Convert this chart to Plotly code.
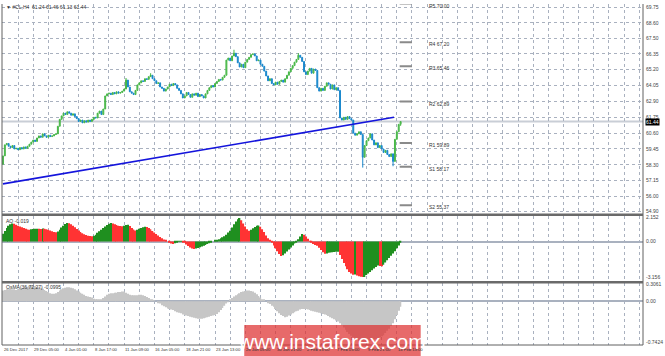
import plotly.graph_objects as go

# ---------------- data ----------------
DATE_LABELS = ["26 Dec 2017", "29 Dec 05:00", "4 Jan 01:00", "8 Jan 17:00", "11 Jan 09:00",
               "16 Jan 05:00", "18 Jan 21:00", "23 Jan 13:00", "26 Jan 05:00", "30 Jan 21:00",
               "2 Feb 13:00", "7 Feb 05:00", "9 Feb 21:00", "14 Feb 13:00"]
LABEL_STEP = 16  # bars between date labels

FIRST_OPEN = 58.35
CLOSE = [
    58.95, 59.75, 59.85, 59.65, 59.55, 59.70, 59.45, 59.50, 59.40, 59.55,
    59.45, 59.60, 59.50, 59.65, 59.80, 59.95, 60.10, 60.00, 60.25, 60.40,
    60.30, 60.55, 60.40, 60.30, 60.45, 60.35, 60.40, 60.50, 60.55, 61.10,
    61.60, 61.85, 62.05, 61.95, 62.15, 62.05, 61.90, 62.00, 61.80, 61.65,
    61.45, 61.55, 61.35, 61.50, 61.40, 61.55, 61.45, 61.60, 61.75, 61.70,
    62.05, 62.20, 61.95, 62.35, 63.30, 63.45, 63.50, 63.40, 63.55, 63.45,
    63.60, 63.50, 63.55, 63.65, 63.80, 64.45, 63.95, 63.60, 63.50, 63.40,
    63.70, 64.10, 64.25, 64.40, 64.35, 64.55, 64.50, 64.70, 64.80, 64.55,
    64.40, 64.20, 64.25, 63.95, 63.85, 63.65, 63.80, 63.95, 64.15, 64.05,
    64.20, 64.10, 63.85, 63.70, 63.45, 63.15, 63.30, 63.55, 63.40, 63.20,
    63.45, 63.35, 63.50, 63.25, 63.40, 63.30, 63.15, 63.45, 63.70, 63.90,
    64.05, 63.95, 64.20, 64.35, 64.50, 64.45, 64.65, 64.80, 65.90, 66.05,
    65.85, 66.20, 66.40, 66.15, 65.70, 65.40, 65.60, 65.35, 65.75, 65.95,
    66.10, 66.30, 66.35, 66.20, 65.85, 65.90, 65.60, 65.45, 65.10, 64.75,
    64.40, 64.55, 64.20, 64.10, 64.30, 64.15, 64.35, 64.45, 64.30, 64.55,
    64.80, 65.05, 65.30, 65.50, 65.75, 65.95, 66.25, 66.10, 65.80, 65.05,
    64.85, 65.10, 65.30, 64.95, 65.25, 65.15, 63.90, 63.65, 63.85, 63.70,
    64.00, 64.25, 64.15, 63.80, 64.10, 63.75, 63.90, 63.70, 61.70, 61.55,
    61.75, 61.60, 61.80, 61.65, 61.55, 60.60, 60.45, 60.55, 60.70, 60.50,
    58.85, 59.70, 60.05, 60.25, 60.55, 60.10, 59.75, 59.90, 59.55, 59.70,
    59.45, 59.20, 59.35, 59.05, 58.90, 59.10, 58.55, 60.15, 60.70, 61.24,
    61.44,
]
WICK_HIGH = {65: 64.60, 78: 64.95, 122: 66.65, 156: 66.40, 210: 61.46}
WICK_LOW = {0: 58.30, 190: 58.10, 206: 58.20, 210: 61.13}

AO = [
    0.70, 0.95, 1.20, 1.40, 1.55, 1.62, 1.58, 1.50, 1.42, 1.35,
    1.28, 1.20, 1.14, 1.08, 1.06, 1.09, 1.12, 1.14, 1.15, 1.15,
    1.13, 1.16, 1.14, 1.10, 1.05, 0.98, 0.92, 0.86, 0.83, 0.90,
    1.05, 1.25, 1.42, 1.56, 1.65, 1.63, 1.55, 1.42, 1.28, 1.12,
    0.98, 0.85, 0.74, 0.65, 0.58, 0.53, 0.49, 0.47, 0.52, 0.62,
    0.78, 0.92, 1.05, 1.20, 1.35, 1.48, 1.58, 1.65, 1.62, 1.55,
    1.48, 1.42, 1.38, 1.36, 1.40, 1.47, 1.50, 1.38, 1.22, 1.08,
    0.98, 1.05, 1.14, 1.22, 1.28, 1.33, 1.30, 1.22, 1.10, 0.95,
    0.82, 0.68, 0.55, 0.42, 0.30, 0.18, 0.09, 0.00, -0.10, -0.18,
    -0.22, -0.15, -0.06, 0.02, 0.05, -0.02, -0.10, -0.25, -0.40, -0.52,
    -0.62, -0.66, -0.62, -0.56, -0.50, -0.44, -0.38, -0.30, -0.22, -0.14,
    -0.06, 0.00, 0.08, 0.15, 0.22, 0.30, 0.38, 0.48, 0.62, 0.80,
    0.97, 1.25, 1.55, 1.80, 2.00, 2.09, 1.90, 1.62, 1.35, 1.10,
    0.97, 1.05, 1.18, 1.30, 1.40, 1.44, 1.32, 1.10, 0.85, 0.55,
    0.30, 0.10, -0.10, -0.35, -0.60, -0.85, -1.10, -1.28, -1.22, -1.05,
    -0.88, -0.70, -0.52, -0.35, -0.18, -0.02, 0.20, 0.45, 0.68, 0.62,
    0.45, 0.25, 0.05, -0.10, -0.22, -0.30, -0.36, -0.55, -0.75, -0.95,
    -1.09, -1.05, -1.00, -0.96, -0.94, -0.92, -0.91, -0.90, -1.20, -1.55,
    -1.90, -2.20, -2.45, -2.70, -2.85, -2.95, -2.93, -3.02, -3.08, -3.12,
    -3.156, -3.14, -2.98, -2.85, -2.70, -2.55, -2.40, -2.25, -2.12, -2.18,
    -2.20, -2.05, -1.85, -1.65, -1.45, -1.25, -1.05, -0.85, -0.60, -0.35,
    -0.019,
]

OSMA = [
    0.20, 0.21, 0.22, 0.22, 0.23, 0.22, 0.22, 0.21, 0.22, 0.23,
    0.24, 0.25, 0.26, 0.27, 0.28, 0.29, 0.29, 0.28, 0.27, 0.26,
    0.25, 0.23, 0.21, 0.19, 0.17, 0.15, 0.14, 0.14, 0.15, 0.17,
    0.20, 0.22, 0.24, 0.25, 0.26, 0.26, 0.25, 0.24, 0.22, 0.20,
    0.18, 0.16, 0.14, 0.12, 0.10, 0.09, 0.08, 0.07, 0.05, 0.03,
    0.02, 0.02, 0.04, 0.06, 0.09, 0.12, 0.14, 0.15, 0.15, 0.16,
    0.16, 0.17, 0.17, 0.18, 0.18, 0.16, 0.14, 0.12, 0.11, 0.11,
    0.11, 0.11, 0.12, 0.12, 0.11, 0.10, 0.08, 0.06, 0.04, 0.02,
    0.01, 0.00, -0.02, -0.04, -0.07, -0.09, -0.11, -0.13, -0.14, -0.15,
    -0.16, -0.18, -0.20, -0.21, -0.22, -0.24, -0.25, -0.26, -0.27, -0.28,
    -0.29, -0.30, -0.31, -0.32, -0.32, -0.32, -0.31, -0.30, -0.29, -0.28,
    -0.27, -0.26, -0.25, -0.23, -0.20, -0.16, -0.12, -0.08, -0.04, -0.01,
    0.02, 0.06, 0.09, 0.11, 0.13, 0.15, 0.17, 0.18, 0.19, 0.20,
    0.20, 0.19, 0.18, 0.16, 0.13, 0.10, 0.07, 0.04, 0.02, 0.00,
    -0.03, -0.05, -0.08, -0.10, -0.14, -0.18, -0.22, -0.25, -0.27, -0.29,
    -0.28, -0.26, -0.24, -0.22, -0.20, -0.18, -0.17, -0.15, -0.14, -0.14,
    -0.14, -0.15, -0.16, -0.17, -0.18, -0.19, -0.20, -0.21, -0.22, -0.23,
    -0.24, -0.25, -0.27, -0.29, -0.31, -0.33, -0.35, -0.37, -0.40, -0.44,
    -0.48, -0.52, -0.56, -0.60, -0.63, -0.66, -0.68, -0.70, -0.72, -0.73,
    -0.74, -0.74, -0.74, -0.73, -0.72, -0.71, -0.70, -0.69, -0.68, -0.66,
    -0.64, -0.62, -0.58, -0.54, -0.50, -0.45, -0.40, -0.33, -0.25, -0.17,
    -0.0995,
]

PIVOT_NAMES = ["R5", "R4", "R3", "R2", "R1", "S1", "S2"]
PIVOT_VALUES = [70.00, 67.20, 65.46, 62.89, 59.89, 58.17, 55.37]

TREND_X = [0, 206.5]
TREND_Y = [56.92, 61.75]

PRICE_TICKS = [69.75, 68.60, 67.50, 66.35, 65.20, 64.05, 62.90, 61.75, 60.60, 59.45, 58.30, 57.15, 56.00, 54.90]
AO_TICKS = [2.152, 0.0, -3.156]
OSMA_TICKS = [0.3061, 0.0, -0.7424]

HEADER = "▼ #CL,H4  61.24 61.46 61.13 61.44"
AO_HEADER = "AO -0.019"
OSMA_HEADER = "OsMA(36,72,27) -0.0995"
LAST_PRICE = 61.44
WATERMARK = "www.instaforex.com"

# ---------------- build ----------------
n = len(CLOSE)
idx = list(range(n))
opens = [FIRST_OPEN] + CLOSE[:-1]
opens[-1] = 61.24
highs = [WICK_HIGH.get(i, max(opens[i], CLOSE[i])) for i in idx]
lows = [WICK_LOW.get(i, min(opens[i], CLOSE[i])) for i in idx]

ao_colors = ["#1f8f1f" if (i > 0 and AO[i] > AO[i - 1]) or i == 0 else "#ff3333" for i in idx]

W, H = 665, 356
ML, MR, MT, MB = 2, 20, 2, 11
PH = H - MT - MB  # plot height in px


def pfrac(py):
    """pixel row -> paper y"""
    return (H - MB - py) / PH


def pxfrac(px):
    return (px - ML) / (W - ML - MR)


PRICE_DOM = [pfrac(213), 1.0]
AO_DOM = [pfrac(281), pfrac(215)]
OSMA_DOM = [0.0, pfrac(283)]
PRICE_RANGE = [54.75, 69.97]
AO_RANGE = [-3.54, 2.30]
OSMA_RANGE = [-0.80, 0.33]
X_RANGE = [-0.5, 338]

fig = go.Figure()
fig.add_trace(go.Candlestick(
    x=idx, open=opens, high=highs, low=lows, close=CLOSE,
    increasing=dict(line=dict(color="#46b646", width=1), fillcolor="#74d074"),
    decreasing=dict(line=dict(color="#1a88cc", width=1), fillcolor="#1a88cc"),
    whiskerwidth=0, yaxis="y", xaxis="x", showlegend=False, hoverinfo="skip",
))
fig.add_trace(go.Bar(x=idx, y=AO, marker=dict(color=ao_colors, line=dict(width=0)),
                     yaxis="y2", xaxis="x", showlegend=False))
fig.add_trace(go.Bar(x=idx, y=OSMA, marker=dict(color="#c6c6c6", line=dict(width=0)),
                     yaxis="y3", xaxis="x", showlegend=False))

grid = "#a9b1bf"
tickfont = dict(family="Liberation Sans", size=5, color="#444")
vt = list(range(0, 337, 8))

fig.update_layout(
    width=W, height=H, margin=dict(l=ML, r=MR, t=MT, b=MB),
    paper_bgcolor="white", plot_bgcolor="white",
    bargap=0.3,
    xaxis=dict(range=X_RANGE, tickvals=vt, showticklabels=False, showgrid=True,
               gridcolor=grid, griddash="dot", gridwidth=1, zeroline=False,
               rangeslider=dict(visible=False), fixedrange=True, ticks=""),
    yaxis=dict(domain=PRICE_DOM, range=PRICE_RANGE, side="right", tickvals=PRICE_TICKS,
               ticktext=[f"{v:.2f}" for v in PRICE_TICKS], tickfont=tickfont,
               showgrid=True, gridcolor=grid, griddash="dot", zeroline=False, ticks="",
               ticklabelstandoff=2),
    yaxis2=dict(domain=AO_DOM, range=AO_RANGE, side="right", tickvals=AO_TICKS,
                ticktext=["2.152", "0.00", "-3.156"], tickfont=tickfont, anchor="x",
                showgrid=False, zeroline=True, zerolinecolor=grid, ticks="", ticklabelstandoff=2),
    yaxis3=dict(domain=OSMA_DOM, range=OSMA_RANGE, side="right", tickvals=OSMA_TICKS,
                ticktext=["0.3061", "0.00", "-0.7424"], tickfont=tickfont, anchor="x",
                showgrid=False, zeroline=True, zerolinecolor=grid, ticks="", ticklabelstandoff=2),
)

shapes = []
# current price line
shapes.append(dict(type="line", xref="paper", x0=0, x1=1, yref="y", y0=LAST_PRICE, y1=LAST_PRICE,
                   line=dict(color="#c9ced6", width=2), layer="between"))
# zero dashed lines in subpanels
for yr in ("y2", "y3"):
    shapes.append(dict(type="line", xref="paper", x0=0, x1=1, yref=yr, y0=0, y1=0,
                       line=dict(color=grid, width=1, dash="dot"), layer="between"))
# trend line
shapes.append(dict(type="line", xref="x", yref="y", x0=TREND_X[0], y0=TREND_Y[0],
                   x1=TREND_X[1], y1=TREND_Y[1], line=dict(color="#1414dc", width=1.6)))
# pivot segments
for v in PIVOT_VALUES:
    shapes.append(dict(type="line", xref="x", yref="y", x0=209.5, x1=216, y0=v, y1=v,
                       line=dict(color="#8a8a8a", width=2)))
# frame
frame = "#606060"
shapes += [
    dict(type="line", xref="paper", yref="paper", x0=0, x1=0, y0=0, y1=1, line=dict(color=frame, width=1)),
    dict(type="line", xref="paper", yref="paper", x0=1, x1=1, y0=0, y1=1, line=dict(color=frame, width=1)),
    dict(type="line", xref="paper", yref="paper", x0=0, x1=1, y0=0, y1=0, line=dict(color=frame, width=1)),
    dict(type="line", xref="paper", yref="paper", x0=0, x1=1, y0=pfrac(214), y1=pfrac(214),
         line=dict(color="#6a6a6a", width=2.5)),
    dict(type="line", xref="paper", yref="paper", x0=0, x1=1, y0=pfrac(282), y1=pfrac(282),
         line=dict(color="#6a6a6a", width=2.5)),
]
# watermark box
shapes.append(dict(type="rect", xref="paper", yref="paper", x0=pxfrac(245), x1=pxfrac(422),
                   y0=pfrac(360), y1=pfrac(325), fillcolor="rgba(222,48,48,0.72)",
                   line=dict(width=0), layer="above"))
fig.update_layout(shapes=shapes)

ann = []
small = dict(family="Liberation Sans", size=5, color="#333")
datefont = dict(family="Liberation Sans", size=4.2, color="#333")
for k, lab in enumerate(DATE_LABELS):
    ann.append(dict(x=k * LABEL_STEP, xref="x", y=pfrac(350), yref="paper", text=lab,
                    showarrow=False, xanchor="left", yanchor="middle", font=datefont, xshift=-1))


def price_to_paper(v):
    return PRICE_DOM[0] + (v - PRICE_RANGE[0]) / (PRICE_RANGE[1] - PRICE_RANGE[0]) * (PRICE_DOM[1] - PRICE_DOM[0])


for name, v in zip(PIVOT_NAMES, PIVOT_VALUES):
    ann.append(dict(x=224, xref="x", y=price_to_paper(v), yref="paper", text=f"{name} {v:.2f}",
                    showarrow=False, xanchor="left", yanchor="middle", font=small, yshift=-2))
ann.append(dict(x=pxfrac(4), xref="paper", y=pfrac(5), yref="paper", text=HEADER, showarrow=False,
                xanchor="left", yanchor="middle", font=small))
ann.append(dict(x=pxfrac(4), xref="paper", y=pfrac(220), yref="paper", text=AO_HEADER, showarrow=False,
                xanchor="left", yanchor="middle", font=small))
ann.append(dict(x=pxfrac(4), xref="paper", y=pfrac(287), yref="paper", text=OSMA_HEADER, showarrow=False,
                xanchor="left", yanchor="middle", font=small))
ann.append(dict(x=1, xref="paper", y=LAST_PRICE, yref="y", text=f"{LAST_PRICE:.2f}", showarrow=False,
                xanchor="left", yanchor="middle", bgcolor="black", borderpad=0,
                font=dict(family="Liberation Sans", size=5, color="white"), xshift=2))
ann.append(dict(x=pxfrac(333), xref="paper", y=pfrac(341), yref="paper", text=WATERMARK, showarrow=False,
                xanchor="center", yanchor="middle",
                font=dict(family="Liberation Sans", size=21, color="white")))
fig.update_layout(annotations=ann)

fig.write_html("out.html")
